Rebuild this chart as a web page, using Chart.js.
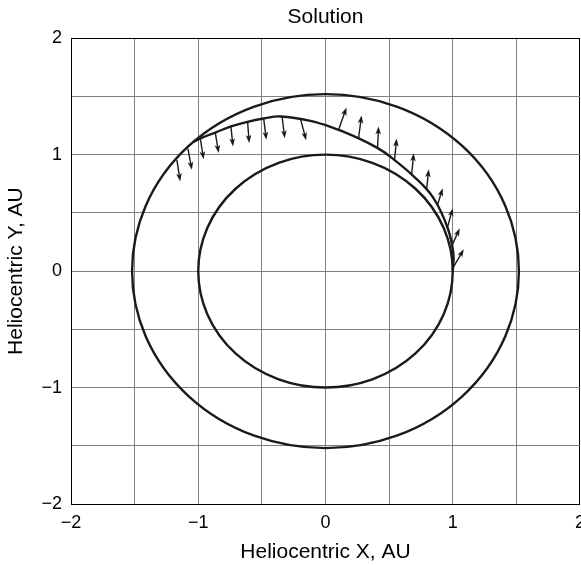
<!DOCTYPE html>
<html>
<head>
<meta charset="utf-8">
<title>Solution</title>
<script src="https://cdn.jsdelivr.net/npm/chart.js@4/dist/chart.umd.min.js"></script>
<style>
	html, body {
		margin: 0;
		padding: 0;
		background: #ffffff;
		overflow: hidden;
	}
	canvas {
		display: block;
	}
</style>
</head>
<body>
<canvas id="orbitChart" width="593" height="565"></canvas>
<script>
// axis ticks
const tickValues = [-2, -1, 0, 1, 2];
const tickLabels = ["\u22122", "\u22121", "0", "1", "2"];

// orbit radii (AU): Earth, Mars
const orbitRadii = [1.0, 1.52];

// transfer trajectory
const trajX = [1.0, 1.005, 0.96, 0.85, 0.693, 0.5, 0.407, 0.262, 0.092, -0.118, -0.354, -0.488, -0.614, -0.743, -0.866, -0.96, -1.04];
const trajY = [0.0, 0.15, 0.37, 0.625, 0.814, 0.99, 1.058, 1.14, 1.218, 1.29, 1.328, 1.31, 1.282, 1.242, 1.19, 1.15, 1.11];

// thrust arrows: tail and tip
const arrowTailX = [0.102, 0.26, 0.409, 0.543, 0.677, 0.795, 0.882, 0.961, 0.99, 1.005, -0.197, -0.341, -0.486, -0.612, -0.743, -0.866, -0.984, -1.081, -1.168];
const arrowTailY = [1.212, 1.141, 1.057, 0.96, 0.83, 0.705, 0.574, 0.385, 0.21, 0.035, 1.31, 1.327, 1.31, 1.282, 1.242, 1.19, 1.14, 1.05, 0.955];
const arrowTipX = [0.165, 0.283, 0.417, 0.559, 0.693, 0.811, 0.921, 1.0, 1.055, 1.087, -0.152, -0.32, -0.465, -0.6, -0.727, -0.84, -0.958, -1.05, -1.142];
const arrowTipY = [1.405, 1.336, 1.242, 1.139, 1.011, 0.874, 0.711, 0.54, 0.368, 0.188, 1.123, 1.14, 1.127, 1.1, 1.071, 1.014, 0.96, 0.87, 0.77];

const INK = "#1a1a1a";

Chart.defaults.font.family = "'Liberation Sans', Arial, Helvetica, sans-serif";
Chart.defaults.color = "#000000";

function tickText(value) {
	for (let i = 0; i < tickValues.length; i++) {
		if (Math.abs(tickValues[i] - value) < 1e-9) {
			return tickLabels[i];
		}
	}
	return "";
}

function gridColor(context) {
	if (context.tick && Math.abs(Math.abs(context.tick.value) - 2) < 1e-9) {
		return "#000000";
	}
	return "#808080";
}

const orbitPlugin = {
	id: "orbits",
	beforeDatasetsDraw: function (chart) {
		const xs = chart.scales.x;
		const ys = chart.scales.y;
		const ctx = chart.ctx;
		const cx = xs.getPixelForValue(0);
		const cy = ys.getPixelForValue(0);
		ctx.save();
		ctx.strokeStyle = INK;
		ctx.lineWidth = 2.4;
		orbitRadii.forEach(function (r) {
			const rx = xs.getPixelForValue(r) - cx;
			const ry = cy - ys.getPixelForValue(r);
			ctx.beginPath();
			ctx.ellipse(cx, cy, rx, ry, 0, 0, Math.PI * 2);
			ctx.stroke();
		});
		ctx.restore();
	}
};

const arrowPlugin = {
	id: "arrows",
	afterDatasetsDraw: function (chart) {
		const xs = chart.scales.x;
		const ys = chart.scales.y;
		const ctx = chart.ctx;
		const headLen = 8;
		const headHalf = 2.8;
		ctx.save();
		ctx.strokeStyle = INK;
		ctx.fillStyle = INK;
		ctx.lineWidth = 1.4;
		for (let i = 0; i < arrowTailX.length; i++) {
			const x0 = xs.getPixelForValue(arrowTailX[i]);
			const y0 = ys.getPixelForValue(arrowTailY[i]);
			const x1 = xs.getPixelForValue(arrowTipX[i]);
			const y1 = ys.getPixelForValue(arrowTipY[i]);
			const ang = Math.atan2(y1 - y0, x1 - x0);
			const c = Math.cos(ang);
			const s = Math.sin(ang);
			ctx.beginPath();
			ctx.moveTo(x0, y0);
			ctx.lineTo(x1 - c * headLen * 0.7, y1 - s * headLen * 0.7);
			ctx.stroke();
			ctx.beginPath();
			ctx.moveTo(x1, y1);
			ctx.lineTo(x1 - c * headLen - s * headHalf, y1 - s * headLen + c * headHalf);
			ctx.lineTo(x1 - c * headLen * 0.75, y1 - s * headLen * 0.75);
			ctx.lineTo(x1 - c * headLen + s * headHalf, y1 - s * headLen - c * headHalf);
			ctx.closePath();
			ctx.fill();
		}
		ctx.restore();
	}
};

const trajPoints = trajX.map(function (x, i) {
	return { x: x, y: trajY[i] };
});

new Chart(document.getElementById("orbitChart"), {
	type: "scatter",
	data: {
		datasets: [
			{
				label: "Trajectory",
				data: trajPoints,
				showLine: true,
				borderColor: INK,
				borderWidth: 2.4,
				pointRadius: 0,
				tension: 0.4,
				fill: false
			}
		]
	},
	options: {
		responsive: false,
		animation: false,
		layout: {
			padding: 0
		},
		plugins: {
			legend: {
				display: false
			},
			tooltip: {
				enabled: false
			},
			title: {
				display: true,
				text: "Solution",
				fullSize: false,
				color: "#000000",
				font: {
					size: 21,
					weight: "normal"
				},
				padding: {
					top: 5,
					bottom: 8
				}
			}
		},
		scales: {
			x: {
				type: "linear",
				min: -2,
				max: 2,
				afterFit: function (scale) {
					scale.height = 61;
				},
				ticks: {
					stepSize: 0.5,
					autoSkip: false,
					maxRotation: 0,
					padding: 8,
					font: {
						size: 18
					},
					callback: function (value) {
						return tickText(value);
					}
				},
				grid: {
					color: gridColor,
					lineWidth: 1,
					drawTicks: false
				},
				border: {
					color: "#000000",
					width: 1
				},
				title: {
					display: true,
					text: "Heliocentric X, AU",
					font: {
						size: 21
					},
					padding: {
						top: 0,
						bottom: 0
					}
				}
			},
			y: {
				type: "linear",
				min: -2,
				max: 2,
				afterFit: function (scale) {
					scale.width = 71;
				},
				ticks: {
					stepSize: 0.5,
					autoSkip: false,
					padding: 9,
					font: {
						size: 18
					},
					callback: function (value) {
						return tickText(value);
					}
				},
				grid: {
					color: gridColor,
					lineWidth: 1,
					drawTicks: false
				},
				border: {
					color: "#000000",
					width: 1
				},
				title: {
					display: true,
					text: "Heliocentric Y, AU",
					font: {
						size: 21
					},
					padding: {
						top: 4,
						bottom: 0
					}
				}
			}
		}
	},
	plugins: [orbitPlugin, arrowPlugin]
});
</script>
</body>
</html>
